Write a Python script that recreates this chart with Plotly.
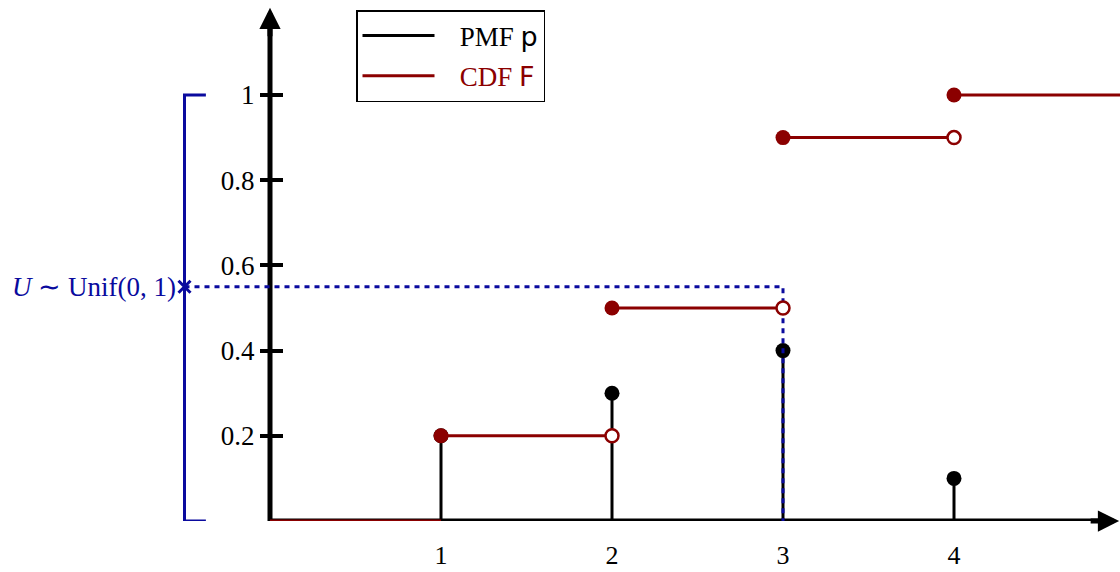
import plotly.graph_objects as go

# ---- data ----
ks = [1, 2, 3, 4]
pmf = [0.2, 0.3, 0.4, 0.1]
cdf = [0.2, 0.5, 0.9, 1.0]
u_value = 0.55
u_x = 3
x_last = 5.0
y_ticks = [0.2, 0.4, 0.6, 0.8, 1]
y_tick_labels = ["0.2", "0.4", "0.6", "0.8", "1"]
x_ticks = [1, 2, 3, 4]
x_tick_labels = ["1", "2", "3", "4"]

RED = "#8B0000"
BLUE = "#0A0A9E"
SERIF = "Liberation Serif"
SANS = "DejaVu Sans"

W, H = 1120, 572
px_per_x = 171.0
px_per_y = 426.0
x0_px = 270
y0_px = 521
x_range = [-x0_px / px_per_x, (W - x0_px) / px_per_x]
y_range = [0, y0_px / px_per_y]

fig = go.Figure()

# PMF stems
sx, sy = [], []
for k, p in zip(ks, pmf):
    sx += [k, k, None]
    sy += [0, p, None]
fig.add_trace(go.Scatter(x=sx, y=sy, mode="lines", line=dict(color="black", width=3),
                         name="&nbsp;&nbsp;&nbsp;PMF <span style='font-family:DejaVu Sans'>p</span>",
                         legendgroup="a", cliponaxis=False))
fig.add_trace(go.Scatter(x=ks, y=pmf, mode="markers", marker=dict(color="black", size=15),
                         showlegend=False, cliponaxis=False))

# U guide lines
fig.add_trace(go.Scatter(x=[-0.5, u_x, u_x], y=[u_value, u_value, 0], mode="lines",
                         line=dict(color=BLUE, width=3, dash="5px,5px"),
                         showlegend=False, cliponaxis=False))

# CDF steps
cx, cy = [0, ks[0], None], [0, 0, None]
for i, (k, F) in enumerate(zip(ks, cdf)):
    nxt = ks[i + 1] if i + 1 < len(ks) else x_last
    cx += [k, nxt, None]
    cy += [F, F, None]
fig.add_trace(go.Scatter(x=cx, y=cy, mode="lines", line=dict(color=RED, width=3),
                         name="&nbsp;&nbsp;&nbsp;<span style='color:#8B0000'>CDF </span><span style='color:#8B0000;font-family:DejaVu Sans'>F</span>",
                         legendgroup="b", cliponaxis=False))
fig.add_trace(go.Scatter(x=ks, y=cdf, mode="markers", marker=dict(color=RED, size=15),
                         showlegend=False, cliponaxis=False))
fig.add_trace(go.Scatter(x=ks[1:], y=cdf[:-1], mode="markers",
                         marker=dict(color="white", size=13, line=dict(color=RED, width=2.5)),
                         showlegend=False, cliponaxis=False))

# bracket for U's support [0,1]
fig.add_trace(go.Scatter(x=[-0.375, -0.5, -0.5, -0.375], y=[1, 1, 0, 0], mode="lines",
                         line=dict(color=BLUE, width=3), showlegend=False, cliponaxis=False))
fig.add_trace(go.Scatter(x=[-0.5], y=[u_value], mode="markers",
                         marker=dict(symbol="x-thin", size=12, line=dict(color=BLUE, width=3)),
                         showlegend=False, cliponaxis=False))

# axis lines
fig.add_shape(type="line", x0=0, y0=0, x1=x_range[1] - 0.05, y1=0, xref="x", yref="y",
              line=dict(color="black", width=5), layer="below")
fig.add_shape(type="line", x0=0, y0=0, x1=0, y1=1.17, xref="x", yref="y",
              line=dict(color="black", width=5), layer="below")
# arrow heads
fig.add_annotation(x=x_range[1] - 0.005, y=0, ax=-30, ay=0, xref="x", yref="y", text="",
                   showarrow=True, arrowhead=2, arrowwidth=5, arrowsize=0.85, arrowcolor="black")
fig.add_annotation(x=0, y=1.205, ax=0, ay=30, xref="x", yref="y", text="",
                   showarrow=True, arrowhead=2, arrowwidth=5, arrowsize=0.85, arrowcolor="black")

fig.add_annotation(x=-0.5, y=u_value, xref="x", yref="y", text="<i>U</i> ∼ Unif(0, 1)",
                   showarrow=False, xanchor="right", xshift=-7,
                   font=dict(family=SERIF, size=27, color=BLUE))

fig.update_layout(
    width=W, height=H,
    margin=dict(l=0, r=0, t=0, b=H - y0_px, autoexpand=False),
    plot_bgcolor="white", paper_bgcolor="white",
    showlegend=True,
    legend=dict(x=356 / W, y=1 - 10 / y0_px, xanchor="left", yanchor="top",
                bgcolor="white", bordercolor="black", borderwidth=1.5,
                font=dict(family=SERIF, size=27, color="black"),
                itemwidth=72,
                traceorder="grouped", tracegroupgap=2),
    xaxis=dict(range=x_range, showgrid=False, zeroline=False, showline=False, automargin=False,
               tickmode="array", tickvals=x_ticks, ticktext=x_tick_labels,
               ticks="", ticklabelstandoff=16,
               tickfont=dict(family=SERIF, size=26, color="black")),
    yaxis=dict(range=y_range, showgrid=False, zeroline=False, showline=False, automargin=False,
               anchor="free", position=x0_px / W, side="left",
               tickmode="array", tickvals=y_ticks, ticktext=y_tick_labels,
               ticks="outside", ticklen=10, tickwidth=4, tickcolor="black",
               tickfont=dict(family=SERIF, size=27, color="black")),
    yaxis2=dict(range=y_range, overlaying="y", anchor="free", position=x0_px / W, side="right",
                showgrid=False, zeroline=False, showline=False, showticklabels=False, automargin=False,
                tickmode="array", tickvals=y_ticks,
                ticks="outside", ticklen=12, tickwidth=4, tickcolor="black"),
)
fig.add_trace(go.Scatter(x=[None], y=[None], yaxis="y2", showlegend=False))

fig.write_html("out.html", config={"displayModeBar": False},
               post_script="document.body.style.margin='0';")
